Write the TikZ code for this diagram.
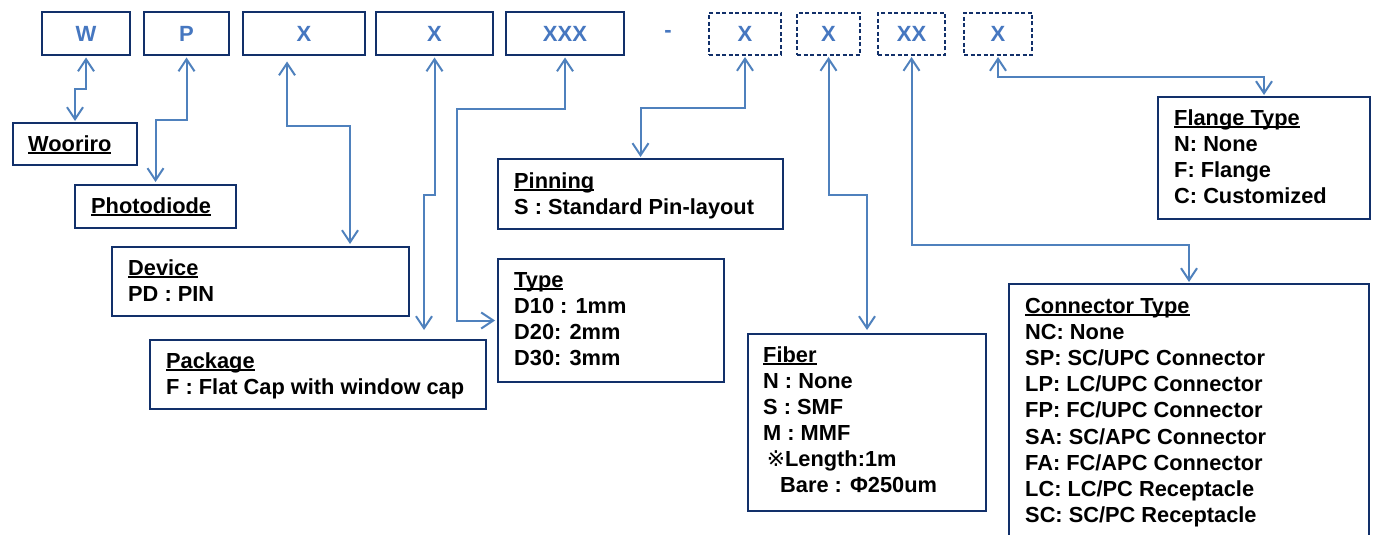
\documentclass[tikz,border=0pt]{standalone}
\usepackage{fontspec}
\setmainfont{Liberation Sans}
\newfontfamily\djv{DejaVu Sans}
\usetikzlibrary{arrows.meta}
\definecolor{navy}{HTML}{12306A}
\definecolor{lnk}{HTML}{4F81BD}
\definecolor{ltr}{HTML}{4677C0}
\newcommand\ttl[1]{\setbox0\hbox{#1}\rlap{\rule[-3pt]{\wd0}{1.8pt}}\box0}
\begin{document}
\begin{tikzpicture}[x=1pt,y=-1pt,
 code/.style={draw=navy,line width=2pt,minimum height=43pt,inner sep=0pt,text=ltr,font=\bfseries\fontsize{22}{26}\selectfont},
 opt/.style={code,dash pattern=on 4pt off 2.5pt},
 box/.style={draw=navy,line width=2pt,anchor=north west,inner sep=0pt},
 lbl/.style={anchor=base west,inner sep=0pt,font=\bfseries\fontsize{21.8}{26}\selectfont},
 link/.style={draw=lnk,line width=2pt,{Straight Barb[length=12pt,width=16pt]}-{Straight Barb[length=12pt,width=16pt]},shorten <=1pt,shorten >=1pt}
]
\useasboundingbox (0,0) rectangle (1376,535);
\clip (0,0) rectangle (1376,535);
\fill[white] (0,0) rectangle (1376,535);

% code boxes
\node[code,minimum width=88pt]  (W)   at (86,34)    {W};
\node[code,minimum width=85pt]  (P)   at (186.5,34) {P};
\node[code,minimum width=122pt] (X1)  at (304,34)   {X};
\node[code,minimum width=117pt] (X2)  at (434.5,34) {X};
\node[code,minimum width=118pt] (XXX) at (565,34)   {XXX};
\node[inner sep=0pt,text=ltr,font=\bfseries\fontsize{22}{26}\selectfont,anchor=base] (dash) at (668,38) {-};
\node[opt,minimum width=72pt,minimum height=42pt] (D1) at (745,34)   {X};
\node[opt,minimum width=63pt,minimum height=42pt] (D2) at (828.5,34) {X};
\node[opt,minimum width=67pt,minimum height=42pt] (D3) at (911.5,34) {XX};
\node[opt,minimum width=68pt,minimum height=42pt] (D4) at (998,34)   {X};

% description boxes
\node[box,minimum width=124pt,minimum height=42pt]  (Woo)    at (12,122)   {};
\node[box,minimum width=161pt,minimum height=43pt]  (Photo)  at (74,184)   {};
\node[box,minimum width=297pt,minimum height=69pt]  (Dev)    at (111,246)  {};
\node[box,minimum width=336pt,minimum height=69pt]  (Pack)   at (149,339)  {};
\node[box,minimum width=285pt,minimum height=70pt]  (Pin)    at (497,158)  {};
\node[box,minimum width=226pt,minimum height=123pt] (Type)   at (497,258)  {};
\node[box,minimum width=238pt,minimum height=177pt] (Fib)    at (747,333)  {};
\node[box,minimum width=360pt,minimum height=262pt] (Conn)   at (1008,283) {};
\node[box,minimum width=212pt,minimum height=122pt] (Flange) at (1157,96)  {};

% texts
\node[lbl] (tWoo) at (28,151) {\ttl{Wooriro}};
\node[lbl] (tPhoto) at (91,213) {\ttl{Photodiode}};
\foreach \t [count=\i from 0] in {\ttl{Device},PD : PIN}
  \node[lbl] (tDev\i) at (128,275+26*\i) {\t};
\foreach \t [count=\i from 0] in {\ttl{Package},F : Flat Cap with window cap}
  \node[lbl] (tPack\i) at (166,368+26*\i) {\t};
\foreach \t [count=\i from 0] in {\ttl{Pinning},S : Standard Pin-layout}
  \node[lbl] (tPin\i) at (514,188+26*\i) {\t};
\foreach \t [count=\i from 0] in {\ttl{Type},D10 : 1mm,D20: 2mm,D30: 3mm}
  \node[lbl] (tType\i) at (514,287+26.3*\i) {\t};
\foreach \t [count=\i from 0] in {\ttl{Fiber},N : None,S : SMF,M : MMF,{\,{\djv\mdseries ※}Length:1m},{\hspace{17pt}Bare : Φ250um}}
  \node[lbl] (tFib\i) at (763,362+26*\i) {\t};
\foreach \t [count=\i from 0] in {\ttl{Connector Type},NC: None,SP: SC/UPC Connector,LP: LC/UPC Connector,FP: FC/UPC Connector,SA: SC/APC Connector,FA: FC/APC Connector,LC: LC/PC Receptacle,SC: SC/PC Receptacle}
  \node[lbl] (tConn\i) at (1025,313+26.2*\i) {\t};
\foreach \t [count=\i from 0] in {\ttl{Flange Type},N: None,F: Flange,C: Customized}
  \node[lbl] (tFl\i) at (1174,125+26*\i) {\t};

% connectors
\draw[link] (W.south) -- ++(0,32) -| (Woo.north);
\draw[link,shorten >=2pt] (P.south) -- ++(0,63) -| (Photo.north);
\draw[link,shorten <=5pt,shorten >=2pt] ([xshift=-17pt]X1.south) -- ++(0,69) -| ([xshift=89.5pt]Dev.north);
\draw[link,shorten >=9pt] (X2.south) -- ++(0,138) -| ([xshift=106pt]Pack.north);
\draw[link,shorten >=2pt] (XXX.south) -- ++(0,52) -- ++(-108,0) |- (Type.west);
\draw[link] (D1.south) -- ++(0,52) -| (Pin.north);
\draw[link,shorten >=3pt] (D2.south) -- ++(0,139) -| (Fib.north);
\draw[link] (D3.south) -- ++(0,189) -| (Conn.north);
\draw[link] (D4.south) -- ++(0,21) -| (Flange.north);
\end{tikzpicture}
\end{document}
